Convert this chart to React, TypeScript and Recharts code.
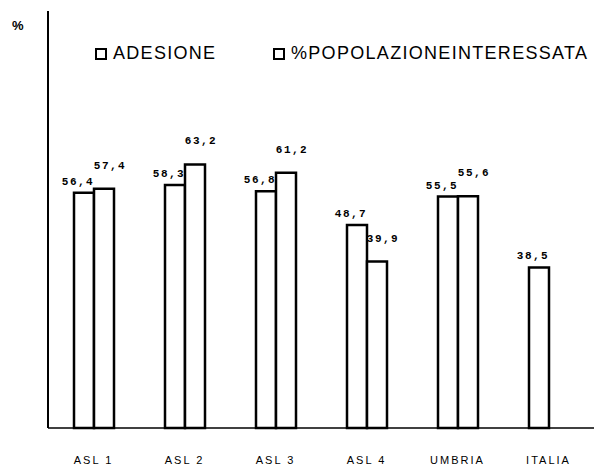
import React from 'react';
import { BarChart, Bar, XAxis, YAxis, LabelList } from 'recharts';

const categories = ['ASL 1', 'ASL 2', 'ASL 3', 'ASL 4', 'UMBRIA', 'ITALIA'];
const adesione = [56.4, 58.3, 56.8, 48.7, 55.5, 38.5];
const popolazione = [57.4, 63.2, 61.2, 39.9, 55.6, null];
const legendItems = ['ADESIONE', '%POPOLAZIONEINTERESSATA'];

const data = categories.map((name, i) => ({
  name,
  adesione: adesione[i],
  popolazione: popolazione[i],
}));

const fmt = (v: any) => (v == null ? '' : String(v).replace('.', ','));

const labelStyle = {
  fontFamily: '"Liberation Mono", "DejaVu Sans Mono", monospace',
  fontSize: 11,
  fontWeight: 700,
  letterSpacing: 1.5,
  fill: '#000',
};

const sans = '"Liberation Sans", Arial, sans-serif';

export default function App() {
  return (
    <div style={{ position: 'absolute', left: 0, top: 0, width: 601, height: 467, background: '#fff' }}>
      <div style={{ position: 'absolute', left: 12, top: 18, fontFamily: sans, fontSize: 13, fontWeight: 700 }}>%</div>
      {/* legend drawn outside the plot so it does not shrink the bars */}
      {legendItems.map((label, i) => (
        <div key={label} style={{ position: 'absolute', left: i === 0 ? 95 : 273, top: 43, display: 'flex', alignItems: 'center', whiteSpace: 'nowrap', fontFamily: sans, fontSize: 18, letterSpacing: 1.3, color: '#000' }}>
          <span style={{ width: 8, height: 8, border: '2.5px solid #000', display: 'inline-block', marginRight: 6 }} />
          <span>{label}</span>
        </div>
      ))}
      <BarChart
        width={601}
        height={467}
        data={data}
        margin={{ top: 11, right: 7, bottom: 0, left: 47 }}
        barSize={20}
        barGap={0}
      >
        <YAxis
          domain={[0, 100]}
          width={1}
          tick={false}
          tickLine={false}
          axisLine={{ stroke: '#000', strokeWidth: 2 }}
        />
        <XAxis
          dataKey="name"
          height={39}
          tickLine={false}
          tickMargin={22}
          interval={0}
          axisLine={{ stroke: '#000', strokeWidth: 1.5 }}
          tick={{ fill: '#000', fontSize: 11, letterSpacing: 2, fontFamily: sans }}
        />
        <Bar dataKey="adesione" name="ADESIONE" fill="#fff" stroke="#000" strokeWidth={2.5} isAnimationActive={false}>
          <LabelList dataKey="adesione" position="top" offset={8} dx={-6} formatter={fmt} style={labelStyle} />
        </Bar>
        <Bar dataKey="popolazione" name="%POPOLAZIONEINTERESSATA" fill="#fff" stroke="#000" strokeWidth={2.5} isAnimationActive={false}>
          <LabelList dataKey="popolazione" position="top" offset={20} dx={6} formatter={fmt} style={labelStyle} />
        </Bar>
      </BarChart>
    </div>
  );
}
